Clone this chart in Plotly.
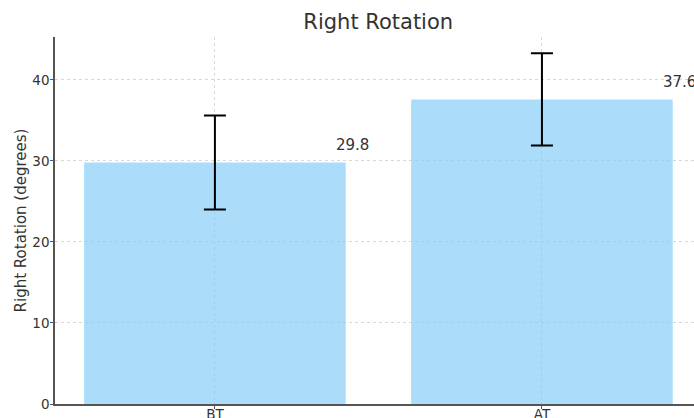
import plotly.graph_objects as go

# Right rotation measurements before (BT) and after (AT) treatment
categories = ["BT", "AT"]
means = [29.8, 37.6]
errors = [5.8, 5.7]
y_ticks = [0, 10, 20, 30, 40]

FONT = "DejaVu Sans"
TEXT = "#333333"

fig = go.Figure()

fig.add_trace(go.Bar(
    x=list(range(len(categories))),
    y=means,
    width=0.8,
    # lightskyblue at 70% alpha so the grid shows faintly through the bars
    marker=dict(color="rgba(135,206,250,0.7)", line=dict(width=0)),
    error_y=dict(type="data", array=errors, visible=True,
                 color="black", thickness=2, width=11),
    showlegend=False,
))

# value labels placed up and to the right of each bar
for i, v in enumerate(means):
    fig.add_annotation(
        x=i + 0.42, y=v + 2.2, text=f"{v:.1f}",
        showarrow=False, xanchor="center", yanchor="middle",
        font=dict(family=FONT, size=15, color=TEXT),
    )

fig.update_layout(
    width=694, height=418,
    margin=dict(l=55, r=0, t=37, b=14),
    paper_bgcolor="white", plot_bgcolor="white",
    font=dict(family=FONT, color=TEXT),
    title=dict(text="Right Rotation", x=0.545, xref="container", xanchor="center",
               y=1 - 22 / 418, yref="container", yanchor="middle",
               font=dict(family=FONT, size=21, color=TEXT)),
    bargap=0.2,
)

fig.update_xaxes(
    range=[-0.489, 1.465],
    automargin=False,
    tickmode="array", tickvals=list(range(len(categories))), ticktext=categories,
    tickfont=dict(family=FONT, size=13.5, color=TEXT),
    ticks="outside", ticklen=3, tickcolor="#555555",
    ticklabelstandoff=-6,
    showline=True, linecolor="#555555", linewidth=1.5,
    showgrid=True, gridcolor="#d8d8d8", gridwidth=0.8, griddash="dot",
    zeroline=False,
)

fig.update_yaxes(
    range=[0, 45.3],
    automargin=False,
    tickmode="array", tickvals=y_ticks,
    tickfont=dict(family=FONT, size=13.5, color=TEXT),
    ticks="outside", ticklen=3, tickcolor="#555555",
    ticklabelstandoff=-2,
    showline=True, linecolor="#555555", linewidth=1.5,
    showgrid=True, gridcolor="#d8d8d8", gridwidth=0.8, griddash="dot",
    zeroline=False,
    title=dict(text="Right Rotation (degrees)", standoff=2,
               font=dict(family=FONT, size=15, color=TEXT)),
)

fig.write_html("out.html")
